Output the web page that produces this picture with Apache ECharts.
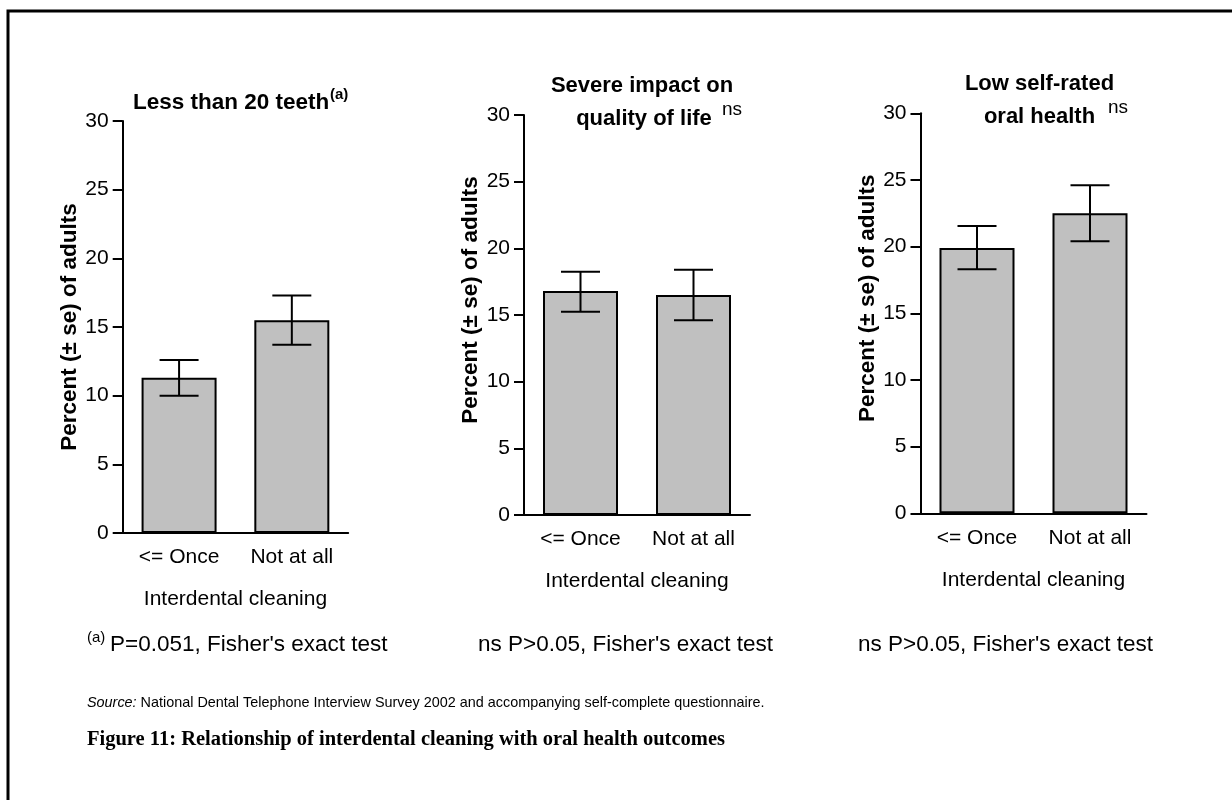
<!DOCTYPE html>
<html>
<head>
<meta charset="utf-8">
<script src="https://cdn.jsdelivr.net/npm/echarts@6/dist/echarts.min.js"></script>
<style>
  html, body { margin: 0; padding: 0; background: #fff; }
  #chart { width: 1232px; height: 800px; }
</style>
</head>
<body>
<div id="chart"></div>
<script>
// Categories shared by all three panels
const categories = ['<= Once', 'Not at all'];

// Y scale (percent of adults)
const yMin = 0;
const yMax = 30;
const yStep = 5;

// Panel 1: less than 20 teeth
const teethMean = [11.3, 15.5];
const teethLow = [10.0, 13.7];
const teethHigh = [12.6, 17.3];

// Panel 2: severe impact on quality of life
const qolMean = [16.8, 16.5];
const qolLow = [15.25, 14.6];
const qolHigh = [18.25, 18.4];

// Panel 3: low self-rated oral health
const healthMean = [19.9, 22.5];
const healthLow = [18.3, 20.4];
const healthHigh = [21.55, 24.6];

const SANS = '"Liberation Sans", Arial, sans-serif';
const SERIF = '"Liberation Serif", "Times New Roman", serif';

const panels = [
  { mean: teethMean, low: teethLow, high: teethHigh, namePad: [0, 0, 0, 0],
    grid: { left: 122.7, top: 121, width: 225.5, height: 412 } },
  { mean: qolMean, low: qolLow, high: qolHigh, namePad: [0, 0, 0, 30],
    grid: { left: 524, top: 115, width: 226, height: 400 } },
  { mean: healthMean, low: healthLow, high: healthHigh, namePad: [0, 0, 0, 30],
    grid: { left: 920.5, top: 113.3, width: 226, height: 400 } }
];

// Vertical whisker with caps from low to high
function errorBarItem(params, api) {
  const x = api.value(0);
  const lo = api.coord([x, api.value(1)]);
  const hi = api.coord([x, api.value(2)]);
  const half = 19.5;
  const style = { stroke: '#000', lineWidth: 2 };
  return {
    type: 'group',
    children: [
      { type: 'line', shape: { x1: hi[0], y1: hi[1], x2: lo[0], y2: lo[1] }, style: style },
      { type: 'line', shape: { x1: hi[0] - half, y1: hi[1], x2: hi[0] + half, y2: hi[1] }, style: style },
      { type: 'line', shape: { x1: lo[0] - half, y1: lo[1], x2: lo[0] + half, y2: lo[1] }, style: style }
    ]
  };
}

const grids = [], xAxes = [], yAxes = [], series = [];
panels.forEach(function (p, i) {
  grids.push(Object.assign({ containLabel: false }, p.grid));
  xAxes.push({
    type: 'category',
    gridIndex: i,
    data: categories,
    name: 'Interdental cleaning',
    nameLocation: 'middle',
    nameGap: 56,
    nameTextStyle: { fontFamily: SANS, fontSize: 21, color: '#000' },
    axisLine: { show: true, lineStyle: { color: '#000', width: 2 } },
    axisTick: { show: false },
    axisLabel: { fontFamily: SANS, fontSize: 21, color: '#000', margin: 14 },
    splitLine: { show: false }
  });
  yAxes.push({
    type: 'value',
    gridIndex: i,
    min: yMin,
    max: yMax,
    interval: yStep,
    name: 'Percent (\u00B1 se) of adults',
    nameLocation: 'middle',
    nameGap: 40,
    nameTextStyle: { fontFamily: SANS, fontSize: 22.5, fontWeight: 'bold', color: '#000', padding: p.namePad },
    axisLine: { show: true, lineStyle: { color: '#000', width: 2 } },
    axisTick: { show: true, length: 10, lineStyle: { color: '#000', width: 2 } },
    axisLabel: { fontFamily: SANS, fontSize: 21, color: '#000', margin: 14 },
    splitLine: { show: false }
  });
  series.push({
    type: 'bar',
    xAxisIndex: i,
    yAxisIndex: i,
    data: p.mean,
    barWidth: 75,
    itemStyle: { color: '#c0c0c0', borderColor: '#000', borderWidth: 2 },
    silent: true
  });
  series.push({
    type: 'custom',
    xAxisIndex: i,
    yAxisIndex: i,
    z: 5,
    renderItem: errorBarItem,
    encode: { x: 0, y: [1, 2] },
    data: p.mean.map(function (_, k) { return [k, p.low[k], p.high[k]]; }),
    silent: true
  });
});

function txt(x, y, text, size, opts) {
  return {
    type: 'text',
    x: x,
    y: y,
    silent: true,
    style: Object.assign({
      text: text,
      fontFamily: SANS,
      fontSize: size,
      fill: '#000',
      align: 'left',
      verticalAlign: 'middle'
    }, opts || {})
  };
}

const graphics = [
  // frame
  { type: 'polyline', silent: true, shape: { points: [[8, 800], [8, 11], [1232, 11]] }, style: { stroke: '#000', lineWidth: 3, fill: null } },

  // panel titles
  txt(133, 103, 'Less than 20 teeth', 22.5, { fontWeight: 'bold' }),
  txt(330, 95, '(a)', 15, { fontWeight: 'bold' }),

  txt(642, 86, 'Severe impact on', 22, { fontWeight: 'bold', align: 'center' }),
  txt(644, 119, 'quality of life', 22, { fontWeight: 'bold', align: 'center' }),
  txt(722, 110, 'ns', 19),

  txt(1039.5, 84, 'Low self-rated', 22, { fontWeight: 'bold', align: 'center' }),
  txt(1039.5, 117, 'oral health', 22, { fontWeight: 'bold', align: 'center' }),
  txt(1108, 108, 'ns', 19),

  // footnotes
  txt(87, 638, '(a)', 15),
  txt(110, 645, 'P=0.051, Fisher\'s exact test', 22.5),
  txt(478, 645, 'ns P>0.05, Fisher\'s exact test', 22.5),
  txt(858, 645, 'ns P>0.05, Fisher\'s exact test', 22.5),

  // source and caption
  {
    type: 'text', x: 87, y: 703, silent: true,
    style: {
      text: '{i|Source:} National Dental Telephone Interview Survey 2002 and accompanying self-complete questionnaire.',
      fontFamily: SANS, fontSize: 14.4, fill: '#000', verticalAlign: 'middle',
      rich: { i: { fontFamily: SANS, fontSize: 14.4, fontStyle: 'italic', fill: '#000' } }
    }
  },
  txt(87, 740, 'Figure 11: Relationship of interdental cleaning with oral health outcomes', 20.5, { fontFamily: SERIF, fontWeight: 'bold' })
];

const chart = echarts.init(document.getElementById('chart'), null, { renderer: 'canvas' });
chart.setOption({
  animation: false,
  backgroundColor: '#fff',
  grid: grids,
  xAxis: xAxes,
  yAxis: yAxes,
  series: series,
  graphic: graphics
});
</script>
</body>
</html>
